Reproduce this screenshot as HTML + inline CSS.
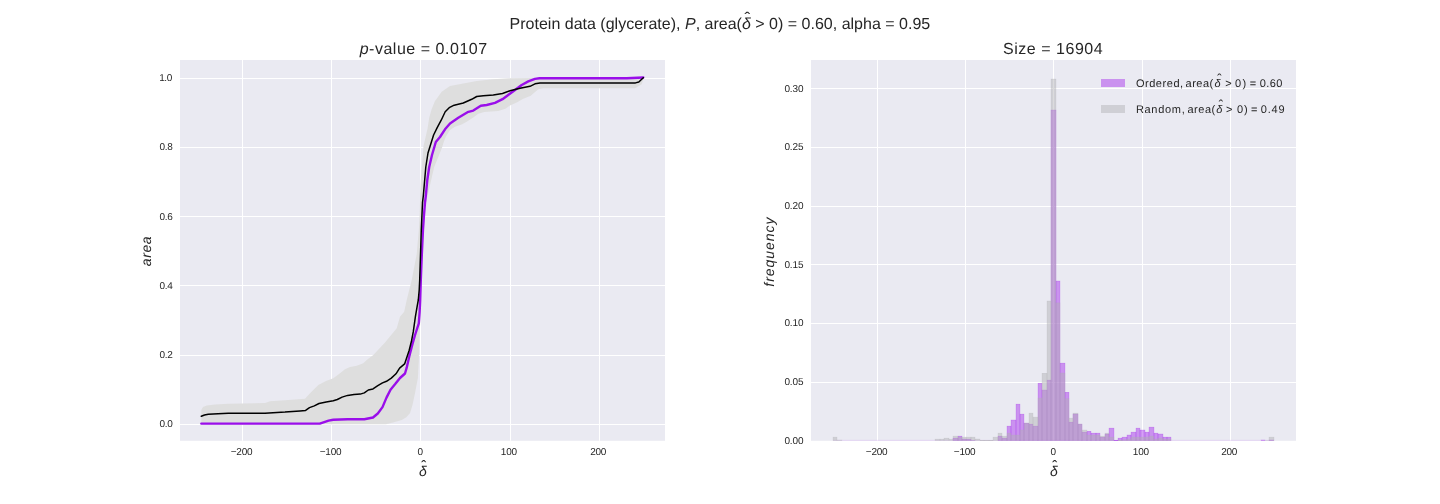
<!DOCTYPE html>
<html lang="en"><head><meta charset="utf-8"><title>Protein data (glycerate)</title>
<style>html,body{margin:0;padding:0;background:#fff}body{width:1440px;height:504px;overflow:hidden}svg{display:block}</style>
</head><body>
<svg width="1440" height="504" viewBox="0 0 1440 504">
<defs><clipPath id="c1"><rect x="180" y="60" width="485" height="380.8"/></clipPath><clipPath id="c2"><rect x="811" y="60" width="485" height="380.8"/></clipPath></defs>
<rect width="1440" height="504" fill="#fff"/>
<rect x="180" y="60" width="485" height="380.8" fill="#EAEAF2"/>
<rect x="811" y="60" width="485" height="380.8" fill="#EAEAF2"/>
<g stroke="#fff" stroke-width="1" fill="none"><line x1="242.5" y1="60" x2="242.5" y2="440.8"/><line x1="331.5" y1="60" x2="331.5" y2="440.8"/><line x1="420.5" y1="60" x2="420.5" y2="440.8"/><line x1="510.5" y1="60" x2="510.5" y2="440.8"/><line x1="599.5" y1="60" x2="599.5" y2="440.8"/><line x1="180" y1="424.5" x2="665" y2="424.5"/><line x1="180" y1="355.5" x2="665" y2="355.5"/><line x1="180" y1="285.5" x2="665" y2="285.5"/><line x1="180" y1="216.5" x2="665" y2="216.5"/><line x1="180" y1="147.5" x2="665" y2="147.5"/><line x1="180" y1="78.5" x2="665" y2="78.5"/><line x1="877.5" y1="60" x2="877.5" y2="440.8"/><line x1="965.5" y1="60" x2="965.5" y2="440.8"/><line x1="1053.5" y1="60" x2="1053.5" y2="440.8"/><line x1="1142.5" y1="60" x2="1142.5" y2="440.8"/><line x1="1230.5" y1="60" x2="1230.5" y2="440.8"/><line x1="811" y1="382.5" x2="1296" y2="382.5"/><line x1="811" y1="323.5" x2="1296" y2="323.5"/><line x1="811" y1="264.5" x2="1296" y2="264.5"/><line x1="811" y1="206.5" x2="1296" y2="206.5"/><line x1="811" y1="147.5" x2="1296" y2="147.5"/><line x1="811" y1="88.5" x2="1296" y2="88.5"/></g>
<g clip-path="url(#c1)">
<polygon points="201.3,410.0 203.0,407.0 206.7,405.5 215.0,404.5 228.3,403.7 265.0,403.0 270.0,401.3 285.0,400.2 305.0,398.8 310.0,393.3 318.3,385.0 326.0,381.0 333.3,378.3 339.0,374.0 345.0,369.2 350.0,367.0 356.7,365.8 363.3,363.3 366.7,360.0 373.3,355.0 385.0,342.5 396.7,328.3 400.0,316.7 404.2,311.7 406.7,300.0 411.7,280.0 416.7,254.3 418.9,229.3 419.7,213.0 420.1,196.0 420.7,182.5 421.5,170.0 422.6,157.5 423.5,146.0 427.5,128.7 429.2,117.7 431.7,109.0 435.0,101.0 441.7,91.8 450.0,86.0 463.3,83.5 476.7,81.0 493.3,79.3 510.0,78.3 540.0,78.0 643.3,77.3 643.3,79.3 641.7,84.3 635.0,88.2 543.3,88.2 538.3,89.3 533.3,93.5 530.8,95.8 523.3,98.8 516.7,102.5 510.0,105.4 505.4,108.8 498.3,110.9 484.2,112.1 478.3,113.8 473.3,117.5 466.7,121.7 461.7,124.6 455.0,126.7 450.0,130.0 445.8,136.7 443.8,141.7 442.2,147.3 434.2,167.0 427.5,196.0 426.0,202.7 423.5,229.3 421.5,280.0 420.8,300.0 420.3,320.0 419.6,336.0 418.8,361.0 417.9,378.0 415.0,393.3 412.5,405.0 410.0,413.3 406.0,417.5 401.7,420.0 393.0,422.5 386.0,424.2 201.3,424.2" fill="#DEDEDE"/>
<polyline points="201.3,423.6 319.8,423.6 328.6,420.6 333.3,419.8 347.6,419.2 364.3,419.2 373.0,417.5 377.8,413.5 382.5,407.1 386.5,397.6 390.5,389.7 395.2,384.1 400.0,378.0 405.0,373.5 406.7,367.7 409.2,356.8 412.5,344.0 415.2,334.5 418.8,323.3 419.6,312.5 420.2,300.0 420.8,280.0 421.8,255.0 423.0,229.3 424.0,215.0 425.0,202.7 425.8,196.0 427.3,180.0 429.2,167.0 432.0,155.0 435.8,142.0 440.0,137.0 445.0,129.3 450.0,123.5 458.3,117.7 467.5,112.2 473.3,110.6 480.8,105.7 486.7,105.0 495.0,102.9 502.5,99.2 509.2,94.2 515.0,90.0 521.7,85.0 528.3,81.4 535.0,78.9 539.5,78.2 626.7,78.2 643.3,77.5" fill="none" stroke="#9A0EEA" stroke-width="2.4" stroke-linejoin="round" stroke-linecap="round"/>
<polyline points="201.3,416.2 204.5,415.0 208.3,414.2 218.0,413.7 228.3,413.3 265.0,413.2 285.0,412.1 300.0,410.9 305.6,410.4 309.5,407.6 314.3,405.9 319.0,403.5 326.2,401.9 333.3,400.8 337.3,399.5 342.1,397.1 347.6,395.4 354.0,394.6 360.3,394.1 364.3,392.9 368.3,390.0 373.0,388.9 377.8,385.7 382.5,382.9 386.5,381.3 391.3,378.1 396.0,373.8 399.6,368.1 404.6,363.9 406.7,357.7 409.2,350.2 411.5,341.0 413.3,331.7 415.4,316.7 417.1,306.7 418.3,300.0 419.2,290.0 419.7,280.0 421.3,229.3 422.5,202.7 423.3,196.0 425.8,167.0 428.0,153.0 431.4,142.0 433.6,135.0 437.2,127.7 441.2,120.2 445.2,111.8 449.2,107.7 454.2,105.2 463.3,103.0 471.7,99.3 476.7,96.5 483.3,95.7 493.3,95.0 502.5,93.5 510.0,90.7 520.0,88.2 530.0,86.3 535.0,83.8 540.0,82.9 635.5,82.9 638.8,82.0 643.3,77.7" fill="none" stroke="#000" stroke-width="1.5" stroke-linejoin="round" stroke-linecap="round"/>
</g>
<g clip-path="url(#c2)">
<g fill="#9A0EEA" fill-opacity="0.4" stroke="#9A0EEA" stroke-opacity="0.4" stroke-width="0.4"><rect x="953" y="438.1" width="5" height="2.8"/><rect x="958" y="436.1" width="4" height="4.8"/><rect x="962" y="439.0" width="4" height="1.8"/><rect x="966" y="439.1" width="5" height="1.7"/><rect x="971" y="440.3" width="4" height="0.5"/><rect x="998" y="436.1" width="4" height="4.8"/><rect x="1002" y="438.1" width="5" height="2.8"/><rect x="1007" y="426.1" width="4" height="14.8"/><rect x="1011" y="420.0" width="5" height="20.8"/><rect x="1016" y="404.1" width="4" height="36.7"/><rect x="1020" y="414.1" width="4" height="26.7"/><rect x="1024" y="423.1" width="5" height="17.7"/><rect x="1029" y="424.1" width="4" height="16.7"/><rect x="1033" y="426.1" width="5" height="14.8"/><rect x="1038" y="383.2" width="4" height="57.6"/><rect x="1042" y="390.0" width="5" height="50.8"/><rect x="1047" y="380.1" width="4" height="60.7"/><rect x="1051" y="110.0" width="5" height="330.8"/><rect x="1056" y="281.0" width="4" height="159.8"/><rect x="1060" y="363.1" width="5" height="77.7"/><rect x="1065" y="392.2" width="4" height="48.6"/><rect x="1069" y="422.1" width="4" height="18.8"/><rect x="1073" y="414.0" width="5" height="26.8"/><rect x="1078" y="424.1" width="4" height="16.7"/><rect x="1082" y="432.1" width="5" height="8.8"/><rect x="1087" y="431.2" width="4" height="9.6"/><rect x="1091" y="433.1" width="5" height="7.7"/><rect x="1096" y="433.1" width="4" height="7.7"/><rect x="1100" y="437.1" width="5" height="3.8"/><rect x="1105" y="434.0" width="4" height="6.8"/><rect x="1109" y="428.1" width="5" height="12.8"/><rect x="1114" y="440.2" width="4" height="0.6"/><rect x="1118" y="438.1" width="4" height="2.7"/><rect x="1122" y="437.1" width="5" height="3.8"/><rect x="1127" y="435.0" width="4" height="5.8"/><rect x="1131" y="432.1" width="5" height="8.8"/><rect x="1136" y="428.1" width="4" height="12.8"/><rect x="1140" y="430.0" width="5" height="10.8"/><rect x="1145" y="432.1" width="4" height="8.8"/><rect x="1149" y="427.1" width="5" height="13.8"/><rect x="1154" y="433.1" width="4" height="7.7"/><rect x="1158" y="434.0" width="5" height="6.8"/><rect x="1163" y="437.1" width="4" height="3.8"/><rect x="1167" y="437.1" width="4" height="3.8"/><rect x="1261" y="440.0" width="4" height="0.8"/><rect x="1269" y="440.0" width="5" height="0.8"/></g>
<rect x="833" y="439.9" width="440.5" height="0.9" fill="#9A0EEA" fill-opacity="0.15"/>
<g fill="#B0B0B2" fill-opacity="0.45" stroke="#B0B0B2" stroke-opacity="0.45" stroke-width="0.4"><rect x="833" y="437.1" width="4" height="3.8"/><rect x="837" y="440.0" width="5" height="0.8"/><rect x="935" y="439.1" width="5" height="1.7"/><rect x="940" y="439.1" width="4" height="1.7"/><rect x="944" y="438.1" width="5" height="2.7"/><rect x="949" y="439.1" width="4" height="1.7"/><rect x="953" y="436.1" width="5" height="4.8"/><rect x="958" y="437.1" width="4" height="3.8"/><rect x="962" y="437.1" width="4" height="3.8"/><rect x="966" y="437.1" width="5" height="3.8"/><rect x="971" y="437.1" width="4" height="3.8"/><rect x="975" y="439.0" width="5" height="1.8"/><rect x="980" y="440.2" width="4" height="0.6"/><rect x="984" y="440.2" width="5" height="0.6"/><rect x="989" y="440.2" width="4" height="0.6"/><rect x="993" y="437.1" width="5" height="3.8"/><rect x="998" y="433.1" width="4" height="7.7"/><rect x="1002" y="436.1" width="5" height="4.8"/><rect x="1007" y="433.1" width="4" height="7.7"/><rect x="1011" y="435.0" width="5" height="5.8"/><rect x="1016" y="435.0" width="4" height="5.8"/><rect x="1020" y="430.0" width="4" height="10.8"/><rect x="1024" y="423.1" width="5" height="17.7"/><rect x="1029" y="413.1" width="4" height="27.8"/><rect x="1033" y="417.1" width="5" height="23.8"/><rect x="1038" y="398.0" width="4" height="42.8"/><rect x="1042" y="373.2" width="5" height="67.6"/><rect x="1047" y="301.0" width="4" height="139.8"/><rect x="1051" y="79.0" width="5" height="361.8"/><rect x="1056" y="302.9" width="4" height="137.9"/><rect x="1060" y="373.0" width="5" height="67.8"/><rect x="1065" y="398.8" width="4" height="42.0"/><rect x="1069" y="418.1" width="4" height="22.8"/><rect x="1073" y="413.1" width="5" height="27.8"/><rect x="1078" y="424.1" width="4" height="16.7"/><rect x="1082" y="430.0" width="5" height="10.8"/><rect x="1087" y="435.0" width="4" height="5.8"/><rect x="1091" y="435.0" width="5" height="5.8"/><rect x="1096" y="435.0" width="4" height="5.8"/><rect x="1100" y="436.1" width="5" height="4.8"/><rect x="1105" y="433.1" width="4" height="7.7"/><rect x="1109" y="437.1" width="5" height="3.8"/><rect x="1118" y="440.2" width="4" height="0.6"/><rect x="1122" y="439.8" width="5" height="1.0"/><rect x="1127" y="439.1" width="4" height="1.7"/><rect x="1131" y="437.1" width="5" height="3.8"/><rect x="1136" y="437.1" width="4" height="3.8"/><rect x="1140" y="437.1" width="5" height="3.8"/><rect x="1145" y="437.1" width="4" height="3.8"/><rect x="1149" y="436.1" width="5" height="4.8"/><rect x="1154" y="439.1" width="4" height="1.7"/><rect x="1158" y="438.1" width="5" height="2.7"/><rect x="1163" y="439.1" width="4" height="1.7"/><rect x="1167" y="439.1" width="4" height="1.7"/><rect x="1265" y="440.3" width="4" height="0.5"/><rect x="1269" y="437.1" width="5" height="3.8"/></g>
</g>
<rect x="1101" y="79" width="24" height="8" fill="#9A0EEA" fill-opacity="0.4"/>
<rect x="1101" y="105" width="24" height="8" fill="#B0B0B2" fill-opacity="0.45"/>
<g font-family="'Liberation Sans', Arial, sans-serif" fill="#262626" text-rendering="geometricPrecision"><text x="509.55" y="29.20" font-size="16" letter-spacing="0.007" xml:space="preserve">Protein data (glycerate), <tspan font-style="italic">P</tspan>, area(<tspan font-style="italic">δ</tspan> &gt; 0) = 0.60, alpha = 0.95</text><text x="744.45" y="23.50" font-size="17" xml:space="preserve">ˆ</text><text x="359.65" y="53.60" font-size="16" letter-spacing="0.523" xml:space="preserve"><tspan font-style="italic">p</tspan>-value = 0.0107</text><text x="1003.00" y="53.60" font-size="16" letter-spacing="0.532" xml:space="preserve">Size = 16904</text><text x="1135.90" y="86.60" font-size="11" letter-spacing="0.543" xml:space="preserve">Ordered,</text><text x="1185.60" y="86.60" font-size="11" letter-spacing="0.500" xml:space="preserve">area(</text><text x="1214.60" y="86.60" font-size="11" font-style="italic" xml:space="preserve">δ</text><text x="1217.25" y="82.90" font-size="13" xml:space="preserve">ˆ</text><text x="1225.20" y="86.60" font-size="11" xml:space="preserve">&gt;</text><text x="1235.07" y="86.60" font-size="11" xml:space="preserve">0</text><text x="1242.38" y="86.60" font-size="11" xml:space="preserve">)</text><text x="1249.85" y="86.60" font-size="11" xml:space="preserve">=</text><text x="1259.70" y="86.60" font-size="11" letter-spacing="0.433" xml:space="preserve">0.60</text><text x="1135.90" y="112.50" font-size="11" letter-spacing="0.708" xml:space="preserve">Random,</text><text x="1187.50" y="112.50" font-size="11" letter-spacing="0.500" xml:space="preserve">area(</text><text x="1216.35" y="112.50" font-size="11" font-style="italic" xml:space="preserve">δ</text><text x="1218.85" y="108.80" font-size="13" xml:space="preserve">ˆ</text><text x="1226.05" y="112.50" font-size="11" xml:space="preserve">&gt;</text><text x="1236.97" y="112.50" font-size="11" xml:space="preserve">0</text><text x="1244.08" y="112.50" font-size="11" xml:space="preserve">)</text><text x="1250.95" y="112.50" font-size="11" xml:space="preserve">=</text><text x="1260.80" y="112.50" font-size="11" letter-spacing="0.800" xml:space="preserve">0.49</text><text x="419.02" y="475.70" font-size="14" font-style="italic" xml:space="preserve">δ</text><text x="421.15" y="471.30" font-size="15" xml:space="preserve">ˆ</text><text x="1050.03" y="475.70" font-size="14" font-style="italic" xml:space="preserve">δ</text><text x="1052.15" y="471.30" font-size="15" xml:space="preserve">ˆ</text><text transform="translate(151.40,266.15) rotate(-90)" font-size="14" font-style="italic" letter-spacing="0.550" xml:space="preserve">area</text><text transform="translate(773.60,286.70) rotate(-90)" font-size="14" font-style="italic" letter-spacing="0.975" xml:space="preserve">frequency</text><text x="159.40" y="427.00" font-size="10" letter-spacing="-0.200" xml:space="preserve">0.0</text><text x="159.40" y="358.00" font-size="10" letter-spacing="-0.200" xml:space="preserve">0.2</text><text x="159.40" y="289.00" font-size="10" letter-spacing="-0.200" xml:space="preserve">0.4</text><text x="159.40" y="220.00" font-size="10" letter-spacing="-0.200" xml:space="preserve">0.6</text><text x="159.40" y="150.00" font-size="10" letter-spacing="-0.200" xml:space="preserve">0.8</text><text x="159.15" y="81.00" font-size="10" letter-spacing="-0.375" xml:space="preserve">1.0</text><text x="784.40" y="444.00" font-size="10" letter-spacing="-0.100" xml:space="preserve">0.00</text><text x="784.40" y="385.00" font-size="10" letter-spacing="-0.100" xml:space="preserve">0.05</text><text x="784.40" y="326.00" font-size="10" letter-spacing="-0.100" xml:space="preserve">0.10</text><text x="784.40" y="268.00" font-size="10" letter-spacing="-0.100" xml:space="preserve">0.15</text><text x="784.40" y="209.00" font-size="10" letter-spacing="-0.100" xml:space="preserve">0.20</text><text x="784.40" y="150.00" font-size="10" letter-spacing="-0.100" xml:space="preserve">0.25</text><text x="784.40" y="92.00" font-size="10" letter-spacing="-0.100" xml:space="preserve">0.30</text><text x="230.82" y="455.00" font-size="10" letter-spacing="-0.280" xml:space="preserve">−200</text><text x="319.82" y="455.00" font-size="10" letter-spacing="-0.280" xml:space="preserve">−100</text><text x="417.62" y="455.00" font-size="10" letter-spacing="-0.280" xml:space="preserve">0</text><text x="500.85" y="455.00" font-size="10" letter-spacing="-0.280" xml:space="preserve">100</text><text x="590.17" y="455.00" font-size="10" letter-spacing="-0.280" xml:space="preserve">200</text><text x="865.83" y="455.00" font-size="10" letter-spacing="-0.280" xml:space="preserve">−200</text><text x="953.83" y="455.00" font-size="10" letter-spacing="-0.280" xml:space="preserve">−100</text><text x="1050.62" y="455.00" font-size="10" letter-spacing="-0.280" xml:space="preserve">0</text><text x="1132.85" y="455.00" font-size="10" letter-spacing="-0.280" xml:space="preserve">100</text><text x="1221.17" y="455.00" font-size="10" letter-spacing="-0.280" xml:space="preserve">200</text></g>
</svg>
</body></html>
